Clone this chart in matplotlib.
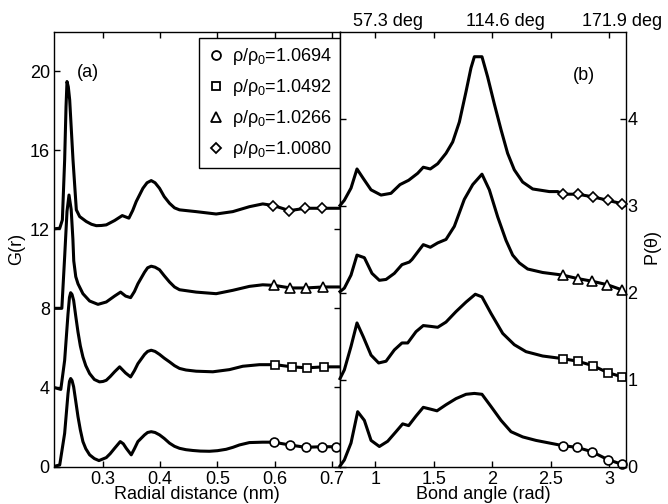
import numpy as np
import matplotlib
matplotlib.use("Agg")
import matplotlib.pyplot as plt
from matplotlib.lines import Line2D
from matplotlib.transforms import offset_copy

plt.rcParams['font.family'] = ['Liberation Sans', 'DejaVu Sans']
plt.rcParams['font.size'] = 13
plt.rcParams['mathtext.fontset'] = 'custom'
plt.rcParams['mathtext.rm'] = 'Liberation Sans'
plt.rcParams['mathtext.it'] = 'Liberation Sans'

# density ratios, one curve per state (stacked: G by 4, P by 1)
labels = [r'$\rho/\rho_0$=1.0694', r'$\rho/\rho_0$=1.0492',
          r'$\rho/\rho_0$=1.0266', r'$\rho/\rho_0$=1.0080']
markers = ['o', 's', '^', 'D']
msizes = [6.4, 5.4, 7.2, 5.4]

# (a) radial distribution G(r)
r_1069 = [0.214, 0.2245, 0.2331, 0.239, 0.2415, 0.2436, 0.246, 0.2488, 0.2525, 0.2564,
          0.2605, 0.265, 0.27, 0.2767, 0.285, 0.293, 0.3058, 0.3127, 0.3203, 0.3302,
          0.3355, 0.3407, 0.3494, 0.355, 0.361, 0.3727, 0.378, 0.3843, 0.391, 0.3988,
          0.407, 0.4163, 0.425, 0.4337, 0.445, 0.457, 0.47, 0.486, 0.5, 0.5151,
          0.527, 0.5384, 0.5558, 0.579,
          0.598, 0.626, 0.654, 0.682, 0.707, 0.715]
g_1069 = [0.0, 0.08, 1.68, 3.7, 4.3, 4.45, 4.35, 4.03, 3.3, 2.52,
          1.85, 1.26, 0.9, 0.59, 0.4, 0.3, 0.45, 0.65, 0.92, 1.26,
          1.15, 0.92, 0.59, 0.9, 1.26, 1.6, 1.72, 1.76, 1.72, 1.6,
          1.42, 1.18, 1.02, 0.92, 0.85, 0.81, 0.78, 0.77, 0.8, 0.87,
          0.97, 1.09, 1.21, 1.23,
          1.23, 1.09, 0.97, 1.0, 1.0, 1.0]

r_1049 = [0.214, 0.2264, 0.2331, 0.239, 0.2415, 0.2436, 0.246, 0.2488, 0.2525, 0.2564,
          0.2605, 0.265, 0.27, 0.2767, 0.285, 0.294, 0.3, 0.3058, 0.3127, 0.3203,
          0.3291, 0.3395, 0.3483, 0.355, 0.361, 0.3727, 0.378, 0.3843, 0.391, 0.3988,
          0.407, 0.4163, 0.425, 0.4337, 0.445, 0.4628, 0.4919, 0.521, 0.5442, 0.5733,
          0.601, 0.6297, 0.6564, 0.6855, 0.715]
g_1049 = [4.0, 3.9, 5.37, 7.73, 8.55, 8.79, 8.7, 8.4, 7.6, 6.8,
          6.1, 5.54, 5.1, 4.7, 4.4, 4.28, 4.3, 4.36, 4.55, 4.79,
          5.04, 4.73, 4.53, 4.85, 5.2, 5.67, 5.82, 5.88, 5.82, 5.67,
          5.48, 5.29, 5.1, 4.96, 4.88, 4.82, 4.79, 4.9, 5.07, 5.15,
          5.15, 5.04, 4.99, 5.04, 5.04]

r_1027 = [0.214, 0.2282, 0.2331, 0.2372, 0.2407, 0.2445, 0.2475, 0.249, 0.2525, 0.2564,
          0.265, 0.2767, 0.2913, 0.3058, 0.3203, 0.3308, 0.3395, 0.3483, 0.355, 0.361,
          0.3727, 0.378, 0.3843, 0.391, 0.3988, 0.407, 0.4163, 0.425, 0.4337, 0.4628,
          0.4977, 0.5267, 0.5558, 0.5791,
          0.5994, 0.6273, 0.6547, 0.6849, 0.715]
g_1027 = [8.0, 8.0, 10.6, 12.9, 13.73, 13.0, 11.5, 10.4, 9.6, 9.24,
          8.74, 8.37, 8.2, 8.32, 8.62, 8.82, 8.62, 8.54, 8.85, 9.24,
          9.83, 10.05, 10.13, 10.08, 9.95, 9.65, 9.33, 9.08, 8.94, 8.82,
          8.74, 8.91, 9.11, 9.19,
          9.16, 9.03, 9.03, 9.08, 9.08]

r_1008 = [0.214, 0.2245, 0.2291, 0.2331, 0.2355, 0.2372, 0.2395, 0.2419, 0.2477, 0.2535,
          0.2593, 0.2709, 0.28, 0.2884, 0.2973, 0.3058, 0.3203, 0.3337, 0.3453, 0.352,
          0.3581, 0.3698, 0.377, 0.3843, 0.391, 0.3988, 0.407, 0.4163, 0.425, 0.4337,
          0.4628, 0.4977, 0.5267, 0.5558, 0.5791,
          0.5977, 0.6256, 0.6535, 0.6826, 0.715]
g_1008 = [12.02, 12.05, 12.47, 15.5, 18.2, 19.47, 19.2, 18.54, 15.5, 12.98,
          12.64, 12.39, 12.25, 12.18, 12.19, 12.22, 12.44, 12.69, 12.56, 12.95,
          13.4, 14.07, 14.35, 14.46, 14.35, 14.07, 13.65, 13.31, 13.08, 12.98,
          12.89, 12.77, 12.89, 13.14, 13.28,
          13.2, 12.94, 13.06, 13.06, 13.06]

# (b) bond angle distribution P(theta)
t_1069 = [0.7, 0.737, 0.794, 0.851, 0.908, 0.965, 1.036, 1.107, 1.178, 1.235,
          1.286, 1.349, 1.411, 1.471, 1.528, 1.605, 1.69, 1.776, 1.847, 1.912,
          1.989, 2.075, 2.16, 2.26, 2.373, 2.487,
          2.601, 2.723, 2.851, 2.985, 3.108]
p_1069 = [0.006, 0.075, 0.27, 0.63, 0.53, 0.30, 0.23, 0.29, 0.40, 0.49,
          0.47, 0.58, 0.68, 0.66, 0.64, 0.71, 0.78, 0.83, 0.84, 0.83,
          0.69, 0.53, 0.40, 0.34, 0.30, 0.27,
          0.24, 0.22, 0.17, 0.08, 0.025]

t_1049 = [0.7, 0.737, 0.794, 0.845, 0.899, 0.965, 1.03, 1.093, 1.164, 1.229,
          1.278, 1.349, 1.411, 1.477, 1.534, 1.605, 1.69, 1.776, 1.855, 1.912,
          1.989, 2.089, 2.188, 2.288, 2.43,
          2.601, 2.729, 2.857, 2.985, 3.108]
p_1049 = [1.01, 1.11, 1.38, 1.65, 1.49, 1.28, 1.19, 1.21, 1.34, 1.42,
          1.42, 1.55, 1.62, 1.61, 1.60, 1.66, 1.78, 1.89, 1.98, 1.95,
          1.76, 1.53, 1.40, 1.32, 1.27,
          1.24, 1.21, 1.16, 1.08, 1.03]

t_1027 = [0.7, 0.737, 0.794, 0.845, 0.908, 0.973, 1.036, 1.093, 1.164, 1.229,
          1.292, 1.315, 1.411, 1.471, 1.534, 1.605, 1.676, 1.761, 1.833, 1.912,
          1.975, 2.046, 2.117, 2.174, 2.231, 2.302, 2.43,
          2.601, 2.729, 2.851, 2.98, 3.108]
p_1027 = [2.01, 2.05, 2.2, 2.43, 2.40, 2.22, 2.14, 2.15, 2.22, 2.32,
          2.35, 2.38, 2.55, 2.52, 2.57, 2.61, 2.76, 3.07, 3.24, 3.36,
          3.18, 2.87, 2.60, 2.43, 2.34, 2.27, 2.23,
          2.20, 2.16, 2.13, 2.09, 2.03]

t_1008 = [0.7, 0.737, 0.794, 0.845, 0.899, 0.965, 1.05, 1.135, 1.212, 1.286,
          1.363, 1.411, 1.471, 1.534, 1.605, 1.662, 1.719, 1.776, 1.818, 1.847,
          1.912, 1.96, 2.017, 2.075, 2.131, 2.188, 2.259, 2.345, 2.487, 2.558,
          2.607, 2.729, 2.857, 2.985, 3.108]
p_1008 = [3.0, 3.06, 3.20, 3.42, 3.31, 3.18, 3.12, 3.14, 3.24, 3.29,
          3.37, 3.44, 3.42, 3.48, 3.60, 3.73, 3.96, 4.31, 4.58, 4.71,
          4.71, 4.48, 4.17, 3.87, 3.60, 3.41, 3.27, 3.19, 3.16, 3.16,
          3.13, 3.13, 3.10, 3.06, 3.02]

left_curves = [(r_1069, g_1069, slice(-6, -1)), (r_1049, g_1049, slice(-5, -1)),
               (r_1027, g_1027, slice(-5, -1)), (r_1008, g_1008, slice(-5, -1))]
right_curves = [(t_1069, p_1069), (t_1049, p_1049), (t_1027, p_1027), (t_1008, p_1008)]

top_ticks = [1, 2, 3]

fig = plt.figure(figsize=(6.68, 5.04), dpi=100)
ax1 = fig.add_axes([54 / 668, 37.5 / 504, 286 / 668, 435 / 504])
ax2 = fig.add_axes([340 / 668, 37.5 / 504, 286 / 668, 435 / 504])

line_kw = dict(color='black', lw=2.2, mfc='white', mec='black', mew=1.2)

for (x, y, every), m, ms in zip(left_curves, markers, msizes):
    ax1.plot(x, y, marker=m, ms=ms, markevery=every, **line_kw)

for (x, y), m, ms in zip(right_curves, markers, msizes):
    ax2.plot(x, y, marker=m, ms=ms, markevery=slice(-5, None), clip_on=False, **line_kw)

ax1.set_xlim(0.2145, 0.714)
ax1.set_ylim(0, 22)
ax1.set_xticks([0.3, 0.4, 0.5, 0.6, 0.7])
ax1.set_xticklabels(['0.3', '0.4', '0.5', '0.6', '0.7'])
ax1.set_yticks([0, 4, 8, 12, 16, 20])
ax1.set_xlabel('Radial distance (nm)', labelpad=-1)
ax1.set_ylabel('G(r)', labelpad=3)
ax1.text(0.119, 0.905, '(a)', transform=ax1.transAxes, ha='center', va='center')

ax2.set_xlim(0.7, np.pi)
ax2.set_ylim(0, 5)
ax2.set_xticks([1, 1.5, 2, 2.5, 3])
ax2.set_xticklabels(['1', '1.5', '2', '2.5', '3'])
ax2.set_yticks([0, 1, 2, 3, 4])
ax2.yaxis.set_label_position('right')
ax2.set_xlabel('Bond angle (rad)', labelpad=-1)
ax2.set_ylabel(r'P($\mathrm{\theta}$)', labelpad=4)
ax2.text(0.853, 0.9, '(b)', transform=ax2.transAxes, ha='center', va='center')

for ax in (ax1, ax2):
    ax.tick_params(direction='in', length=4, width=1, top=True, right=True, pad=3)
    for sp in ax.spines.values():
        sp.set_linewidth(1.0)
ax2.tick_params(axis='y', labelleft=False, labelright=True, pad=1)

# degree labels along the top of the bond-angle panel
top_tr = offset_copy(ax2.get_xaxis_transform(), fig=fig, x=13, y=2, units='dots')
for t in top_ticks:
    ax2.text(t, 1.0, f'{np.degrees(t):.1f} deg', transform=top_tr, ha='center', va='bottom')

handles = [Line2D([], [], ls='none', marker=m, ms=ms, mfc='white', mec='black', mew=1.3)
           for m, ms in zip(markers, msizes)]
leg = ax1.legend(handles, labels, loc='upper right', bbox_to_anchor=(1.0, 0.985),
                 frameon=True, fancybox=False, edgecolor='black', framealpha=1,
                 borderaxespad=0, handlelength=0.9, handletextpad=0.45,
                 labelspacing=0.55, borderpad=0.45, fontsize=13)
leg.get_frame().set_linewidth(1.0)

fig.savefig('out.png', dpi=100)
